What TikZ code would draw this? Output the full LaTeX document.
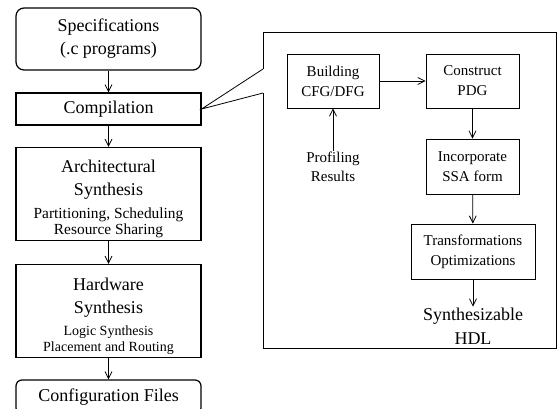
\documentclass[tikz,border=0pt]{standalone}
\usepackage{fontspec}
\setmainfont{Liberation Serif}
\usepackage{tikz}
\usetikzlibrary{arrows.meta, positioning, calc}

\newcommand{\sublines}[2]{{\fontsize{#1}{16}\selectfont\begin{tabular}{@{}c@{}}#2\end{tabular}}}

\begin{document}
\begin{tikzpicture}[
    x=1pt, y=-1pt,
    >={Straight Barb[length=7pt,width=7pt]},
    stage/.style={rectangle,draw,line width=1.2pt,minimum width=185pt,inner sep=0pt,
                  align=center,font=\fontsize{18}{23}\selectfont},
    substage/.style={rectangle,draw,line width=0.8pt,minimum height=54pt,inner sep=0pt,
                     align=center,font=\fontsize{15}{20}\selectfont},
    flow/.style={->,line width=0.8pt}
]
    \useasboundingbox (0,0) rectangle (558,408);

    % Left flow
    \node[stage,rounded corners=8pt,minimum height=62pt] (spec) at (108.5,39) {
        Specifications\\(.c programs)
    };
    \node[stage,minimum height=32pt] (comp) at (108.5,109) {Compilation};
    \node[stage,minimum height=93pt] (arch) at (108.5,194) {
        \rule{0pt}{24pt}Architectural\\Synthesis\\[7pt]
        \sublines{15.4}{Partitioning, Scheduling\\Resource Sharing}
    };
    \node[stage,minimum height=93pt] (hw) at (108.5,311) {
        \rule{0pt}{24pt}Hardware\\Synthesis\\[6pt]
        \sublines{14}{Logic Synthesis\\Placement and Routing}
    };
    \node[stage,rounded corners=6pt,minimum height=34pt] (conf) at (108.5,397) {Configuration Files};

    \draw[flow] (spec) -- (comp);
    \draw[flow] (comp) -- (arch);
    \draw[flow] (arch) -- (hw);
    \draw[flow] (hw) -- (conf);

    % Zoomed compilation view
    \coordinate (gapTop) at (263,69);
    \coordinate (gapBot) at (263,93);
    \draw[line width=1pt] (gapTop) -- (263,32) -- (556,32) -- (556,348) -- (263,348) -- (gapBot);
    \draw[line width=0.8pt] (gapTop) -- (comp.east) -- (gapBot);

    \node[substage,minimum width=92pt] (cfg) at (333,81) {Building\\CFG/DFG};
    \node[substage,minimum width=93pt] (pdg) at (472.5,81) {Construct\\PDG};
    \node[substage,minimum width=93pt,minimum height=55pt] (ssa) at (472.5,166.5) {Incorporate\\SSA form};
    \node[substage,minimum width=124pt,minimum height=55pt] (opt) at (473,251.5) {
        Transformations\\Optimizations
    };
    \node[align=center,inner sep=1pt,font=\fontsize{15}{19}\selectfont] (prof) at (333,167) {
        Profiling\\Results
    };
    \node[align=center,inner sep=1pt,font=\fontsize{18}{24}\selectfont] (hdl) at (473,326) {
        Synthesizable\\HDL
    };

    \draw[flow] (cfg) -- (pdg);
    \draw[flow] (pdg) -- (ssa);
    \draw[flow] (ssa) -- (opt);
    \draw[flow] (opt) -- (hdl);
    \draw[flow] (prof) -- (cfg);
\end{tikzpicture}
\end{document}
